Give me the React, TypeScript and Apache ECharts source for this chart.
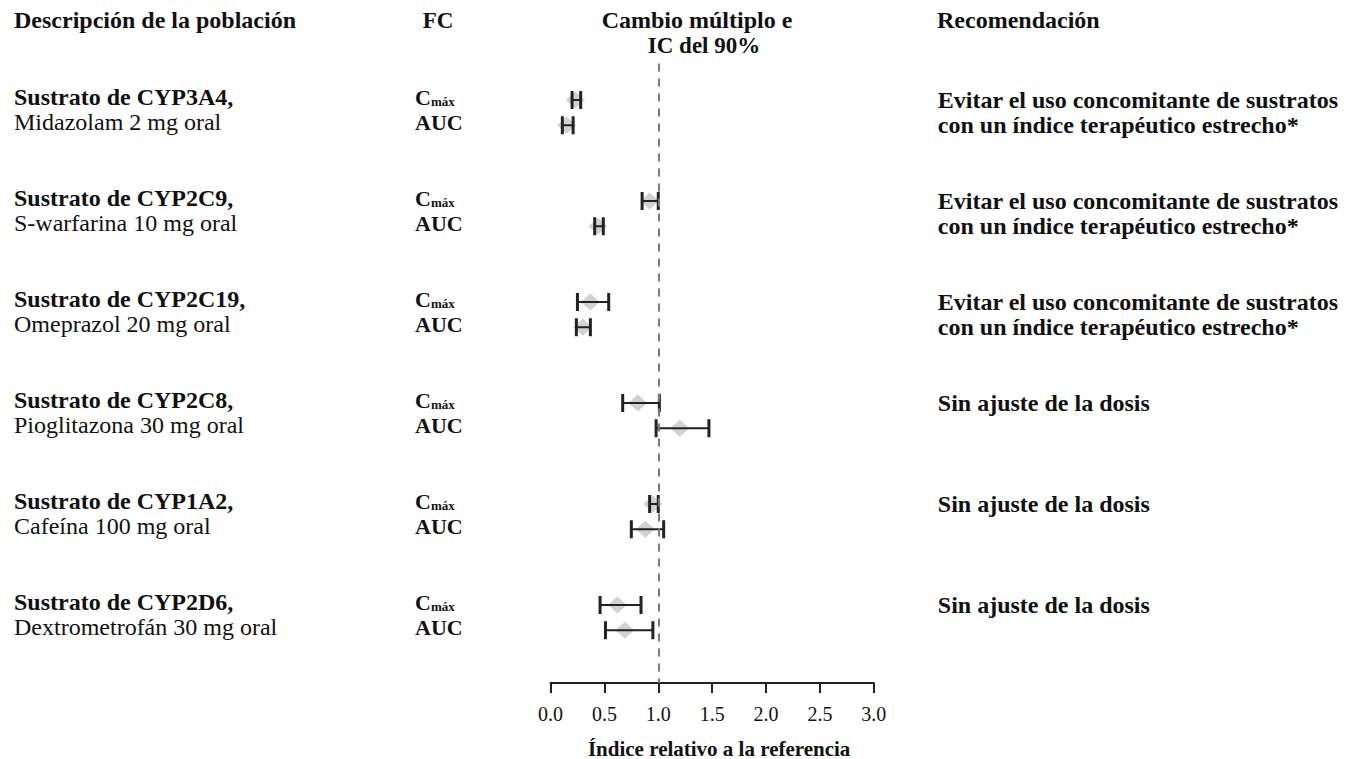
import React, { useEffect, useRef } from "react";
import * as echarts from "echarts";

const FONT = "'Liberation Serif', 'Times New Roman', serif";

// ---- data ----
const substrateGroups = [
  "Sustrato de CYP3A4,",
  "Sustrato de CYP2C9,",
  "Sustrato de CYP2C19,",
  "Sustrato de CYP2C8,",
  "Sustrato de CYP1A2,",
  "Sustrato de CYP2D6,",
];
const substrateDoses = [
  "Midazolam 2 mg oral",
  "S-warfarina 10 mg oral",
  "Omeprazol 20 mg oral",
  "Pioglitazona 30 mg oral",
  "Cafeína 100 mg oral",
  "Dextrometrofán 30 mg oral",
];
const recLine1 = [
  "Evitar el uso concomitante de sustratos",
  "Evitar el uso concomitante de sustratos",
  "Evitar el uso concomitante de sustratos",
  "Sin ajuste de la dosis",
  "Sin ajuste de la dosis",
  "Sin ajuste de la dosis",
];
const recLine2 = [
  "con un índice terapéutico estrecho*",
  "con un índice terapéutico estrecho*",
  "con un índice terapéutico estrecho*",
  "",
  "",
  "",
];
const pkParams = ["Cmáx", "AUC"];

const cmaxRatio = [0.23, 0.92, 0.37, 0.81, 0.95, 0.62];
const cmaxLow = [0.2, 0.85, 0.25, 0.67, 0.92, 0.46];
const cmaxHigh = [0.28, 1.0, 0.54, 1.01, 1.0, 0.84];
const aucRatio = [0.15, 0.44, 0.3, 1.2, 0.88, 0.69];
const aucLow = [0.11, 0.41, 0.24, 0.98, 0.75, 0.51];
const aucHigh = [0.21, 0.49, 0.37, 1.47, 1.05, 0.95];

const xTickValues = [0, 0.5, 1, 1.5, 2, 2.5, 3];
const referenceValue = 1;

const ROWS_PER_GROUP = 4;

export default function App() {
  const ref = useRef<HTMLDivElement>(null);

  useEffect(() => {
    document.body.style.margin = "0";
    if (!ref.current) return;
    const chart = echarts.init(ref.current, null, { renderer: "svg" });

    const points: number[][] = [];
    const bars: number[][] = [];
    substrateGroups.forEach((_, i) => {
      const p = i * ROWS_PER_GROUP;
      points.push([cmaxRatio[i], p]);
      points.push([aucRatio[i], p + 1]);
      bars.push([p, cmaxLow[i], cmaxHigh[i]]);
      bars.push([p + 1, aucLow[i], aucHigh[i]]);
    });

    const rowOf = (v: number) => {
      const r = Math.round(v);
      if (Math.abs(v - r) > 1e-6 || r < 0) return null;
      const g = Math.floor(r / ROWS_PER_GROUP);
      const k = r % ROWS_PER_GROUP;
      if (g >= substrateGroups.length || k > 1) return null;
      return { g, k };
    };

    const yMin = -2;
    const yMax = 23.09;
    const baseY = {
      type: "value" as const,
      min: yMin,
      max: yMax,
      interval: 1,
      inverse: true,
      axisLine: { show: false },
      axisTick: { show: false },
      splitLine: { show: false },
    };

    const option: any = {
      animation: false,
      backgroundColor: "#ffffff",
      grid: {
        left: 550.5,
        right: 477.2,
        top: 49.5,
        bottom: 76,
        containLabel: false,
        outerBoundsMode: "none",
      },
      xAxis: {
        type: "value",
        min: 0,
        max: 3,
        interval: 0.5,
        splitLine: { show: false },
        axisLine: { onZero: false, lineStyle: { color: "#222", width: 2 } },
        axisTick: { length: 10, lineStyle: { color: "#222", width: 2 } },
        axisLabel: {
          margin: 21,
          fontFamily: FONT,
          fontSize: 20,
          color: "#111",
          formatter: (v: number) =>
            xTickValues.some((t) => Math.abs(t - v) < 1e-9) ? v.toFixed(1) : "",
        },
        name: "Índice relativo a la referencia",
        nameLocation: "middle",
        nameGap: 55,
        nameTextStyle: {
          fontFamily: FONT,
          fontSize: 21,
          fontWeight: "bold",
          color: "#111",
          padding: [0, 0, 0, 14],
        },
      },
      yAxis: [
        {
          ...baseY,
          position: "left",
          axisLabel: {
            margin: 536.5,
            align: "left",
            padding: [0, 0, 6, 0],
            formatter: (v: number) => {
              const r = rowOf(v);
              if (!r) return "";
              return r.k === 0
                ? `{b|${substrateGroups[r.g]}}`
                : `{r|${substrateDoses[r.g]}}`;
            },
            rich: {
              b: { fontFamily: FONT, fontSize: 24, fontWeight: "bold", color: "#111" },
              r: { fontFamily: FONT, fontSize: 24, color: "#111" },
            },
          },
        },
        {
          ...baseY,
          position: "left",
          axisLabel: {
            margin: 135.5,
            align: "left",
            padding: [0, 0, 5, 0],
            formatter: (v: number) => {
              const r = rowOf(v);
              if (!r) return "";
              const p = pkParams[r.k];
              if (r.k === 0) return `{c|${p.slice(0, 1)}}{s|${p.slice(1)}}`;
              return `{a|${p}}`;
            },
            rich: {
              c: {
                fontFamily: FONT,
                fontSize: 22,
                lineHeight: 22,
                fontWeight: "bold",
                color: "#111",
                verticalAlign: "bottom",
              },
              s: {
                fontFamily: FONT,
                fontSize: 13,
                lineHeight: 13,
                fontWeight: "bold",
                color: "#111",
                verticalAlign: "bottom",
              },
              a: { fontFamily: FONT, fontSize: 22, lineHeight: 22, fontWeight: "bold", color: "#111" },
            },
          },
        },
        {
          ...baseY,
          position: "right",
          axisLabel: {
            margin: 64,
            align: "left",
            padding: [0, 0, 6, 0],
            fontFamily: FONT,
            fontSize: 24,
            fontWeight: "bold",
            color: "#111",
            formatter: (v: number) => {
              const r = rowOf(v);
              if (!r) return "";
              return r.k === 0 ? recLine1[r.g] : recLine2[r.g];
            },
          },
        },
      ],
      graphic: [
        {
          type: "text",
          x: 14,
          y: 20,
          style: {
            text: "Descripción de la población",
            font: `bold 24px ${FONT}`,
            fill: "#111",
            align: "left",
            verticalAlign: "middle",
            textAlign: "left",
            textVerticalAlign: "middle",
          },
        },
        {
          type: "text",
          x: 438,
          y: 20,
          style: {
            text: "FC",
            font: `bold 23px ${FONT}`,
            fill: "#111",
            align: "center",
            verticalAlign: "middle",
            textAlign: "center",
            textVerticalAlign: "middle",
          },
        },
        {
          type: "text",
          x: 697,
          y: 20,
          style: {
            text: "Cambio múltiplo e",
            font: `bold 24px ${FONT}`,
            fill: "#111",
            align: "center",
            verticalAlign: "middle",
            textAlign: "center",
            textVerticalAlign: "middle",
          },
        },
        {
          type: "text",
          x: 704,
          y: 45,
          style: {
            text: "IC del 90%",
            font: `bold 23px ${FONT}`,
            fill: "#111",
            align: "center",
            verticalAlign: "middle",
            textAlign: "center",
            textVerticalAlign: "middle",
          },
        },
        {
          type: "text",
          x: 937,
          y: 20,
          style: {
            text: "Recomendación",
            font: `bold 24px ${FONT}`,
            fill: "#111",
            align: "left",
            verticalAlign: "middle",
            textAlign: "left",
            textVerticalAlign: "middle",
          },
        },
      ],
      series: [
        {
          type: "scatter",
          yAxisIndex: 0,
          symbol: "diamond",
          symbolSize: [19, 17],
          itemStyle: { color: "#c6c6c6" },
          data: points,
          z: 2,
          markLine: {
            silent: true,
            symbol: ["none", "none"],
            label: { show: false },
            lineStyle: { type: [8, 7], color: "#7a7a7a", width: 2 },
            data: [[{ coord: [referenceValue, -1.45] }, { coord: [referenceValue, yMax] }]],
          },
        },
        {
          type: "custom",
          yAxisIndex: 0,
          z: 3,
          encode: { x: [1, 2], y: 0 },
          data: bars,
          renderItem: (params: any, api: any) => {
            const y = api.value(0);
            const lo = api.coord([api.value(1), y]);
            const hi = api.coord([api.value(2), y]);
            const h = 9;
            const stroke = "#222";
            return {
              type: "group",
              children: [
                {
                  type: "line",
                  shape: { x1: lo[0], y1: lo[1], x2: hi[0], y2: hi[1] },
                  style: { stroke, lineWidth: 2 },
                },
                {
                  type: "line",
                  shape: { x1: lo[0], y1: lo[1] - h, x2: lo[0], y2: lo[1] + h },
                  style: { stroke, lineWidth: 3 },
                },
                {
                  type: "line",
                  shape: { x1: hi[0], y1: hi[1] - h, x2: hi[0], y2: hi[1] + h },
                  style: { stroke, lineWidth: 3 },
                },
              ],
            };
          },
        },
      ],
    };

    chart.setOption(option);
    return () => chart.dispose();
  }, []);

  return <div ref={ref} style={{ width: 1351, height: 759 }} />;
}
